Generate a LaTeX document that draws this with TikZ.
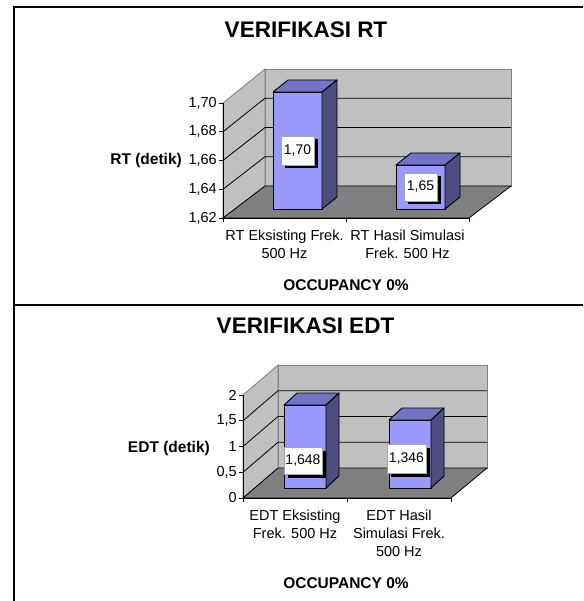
\documentclass[tikz,border=0pt]{standalone}
\usepackage{fontspec}
\setmainfont{Liberation Sans}
\usetikzlibrary{shadows}
\definecolor{wallgray}{HTML}{C0C0C0}
\definecolor{floorgray}{HTML}{808080}
\definecolor{barfront}{HTML}{9999FF}
\definecolor{bartop}{HTML}{7373C6}
\definecolor{barside}{HTML}{4D4D80}
\newcommand\barthreed[6]{%
  \filldraw[barface,fill=barfront] (#1,#2) rectangle (#3,#4);
  \filldraw[barface,fill=bartop] (#1,#2) -- ++(#5,#6) -- ++({#3-#1},0) -- (#3,#2) -- cycle;
  \filldraw[barface,fill=barside] (#3,#2) -- ++(#5,#6) -- ++(0,{#4-#2}) -- (#3,#4) -- cycle;
}
\tikzset{
  wall/.style={fill=wallgray, draw=floorgray, line width=0.8},
  floorpl/.style={fill=floorgray, draw=black, line width=0.8},
  gridln/.style={draw=black, line width=0.8},
  axisln/.style={draw=black, line width=0.9},
  barface/.style={draw=black, line width=0.9, line join=round},
  frameln/.style={draw=black, line width=2},
  ticklab/.style={anchor=east, inner sep=0, font=\fontsize{14.5}{17}\selectfont},
  catlab/.style={align=center, inner sep=0, font=\fontsize{14.5}{18}\selectfont},
  axtitle/.style={inner sep=0, font=\fontsize{15.5}{18}\selectfont\bfseries},
  charttitle/.style={inner sep=0, font=\fontsize{22.5}{26}\selectfont\bfseries},
  vallab/.style={fill=white, draw=gray!70, line width=0.5, inner sep=0,
    font=\fontsize{14}{16}\selectfont,
    drop shadow={shadow xshift=3.5pt, shadow yshift=-3.5pt, fill=black, opacity=1}},
}
\begin{document}
\begin{tikzpicture}[x=1pt,y=-1pt]
\useasboundingbox[fill=white] (0,0) rectangle (583,601);
% ================= frame =================
\draw[frameln] (14,601) -- (14,7) -- (583,7);
\draw[frameln] (14,305) -- (583,305);
% ================= chart 1: RT =================
\filldraw[wall] (265,69) rectangle (511,186);
\filldraw[wall] (223,218) -- (223,103) -- (265,69) -- (265,186) -- cycle;
\filldraw[floorpl] (223,218) -- (469,218) -- (511,186) -- (265,186) -- cycle;
\foreach \b/\f in {98.25/131.75, 127.5/160.5, 156.75/189.25} {
  \draw[gridln] (223,\f) -- (265,\b) -- (511,\b);
}
\draw[axisln] (223,103) -- (223,218) -- (469,218);
\foreach \f in {103,131.75,160.5,189.25,218} { \draw[axisln] (219,\f) -- (223,\f); }
\foreach \xx in {223,346,469} { \draw[axisln] (\xx,218) -- (\xx,222); }
\barthreed{273}{92}{322}{209}{15}{-12}
\barthreed{396}{165}{445}{209}{15}{-12}
\node[vallab, minimum width=33, minimum height=29] (v170) at (297.5,150.5) {1,70};
\node[vallab, minimum width=33, minimum height=28] (v165) at (420.5,187) {1,65};
\node[ticklab] (t170) at (217,103) {1,70};
\node[ticklab] (t168) at (217,131.75) {1,68};
\node[ticklab] (t166) at (217,160.5) {1,66};
\node[ticklab] (t164) at (217,189.25) {1,64};
\node[ticklab] (t162) at (217,218) {1,62};
\node[axtitle, anchor=east] (rty) at (182,160) {RT (detik)};
\node[catlab] (rtc1) at (284.5,244) {RT Eksisting Frek.\\500 Hz};
\node[catlab] (rtc2) at (407.5,244) {RT Hasil Simulasi\\Frek. 500 Hz};
\node[axtitle] (rtx) at (346,285) {OCCUPANCY 0\%};
\node[charttitle] (rtt) at (306,30) {VERIFIKASI RT};
% ================= chart 2: EDT =================
\filldraw[wall] (278,365) rectangle (487,468);
\filldraw[wall] (243,498) -- (243,395) -- (278,365) -- (278,468) -- cycle;
\filldraw[floorpl] (243,498) -- (451,498) -- (487,468) -- (278,468) -- cycle;
\foreach \b/\f in {390.75/420.75, 416.5/446.5, 442.25/472.25} {
  \draw[gridln] (243,\f) -- (278,\b) -- (487,\b);
}
\draw[axisln] (243,395) -- (243,498) -- (451,498);
\foreach \f in {395,420.75,446.5,472.25,498} { \draw[axisln] (239,\f) -- (243,\f); }
\foreach \xx in {243,347,451} { \draw[axisln] (\xx,498) -- (\xx,502); }
\barthreed{284}{405}{326}{488}{13}{-12}
\barthreed{389}{420}{431}{488}{13}{-12}
\node[vallab, minimum width=38, minimum height=27, drop shadow={shadow xshift=4pt, shadow yshift=-4pt, fill=black, opacity=1}] (v1648) at (303,460.5) {1,648};
\node[vallab, minimum width=39, minimum height=29, drop shadow={shadow xshift=4pt, shadow yshift=-4pt, fill=black, opacity=1}] (v1346) at (406.5,458.5) {1,346};
\node[ticklab] (t2) at (237,395) {2};
\node[ticklab] (t15) at (237,420.75) {1,5};
\node[ticklab] (t1) at (237,446.5) {1};
\node[ticklab] (t05) at (237,472.25) {0,5};
\node[ticklab] (t0) at (237,498) {0};
\node[axtitle, anchor=east] (edty) at (210,448) {EDT (detik)};
\node[catlab] (edc1) at (295,524) {EDT Eksisting\\Frek. 500 Hz};
\node[catlab] (edc2) at (399,533) {EDT Hasil\\Simulasi Frek.\\500 Hz};
\node[axtitle] (edx) at (346,583) {OCCUPANCY 0\%};
\node[charttitle] (edt) at (305.5,326) {VERIFIKASI EDT};
\end{tikzpicture}
\end{document}
